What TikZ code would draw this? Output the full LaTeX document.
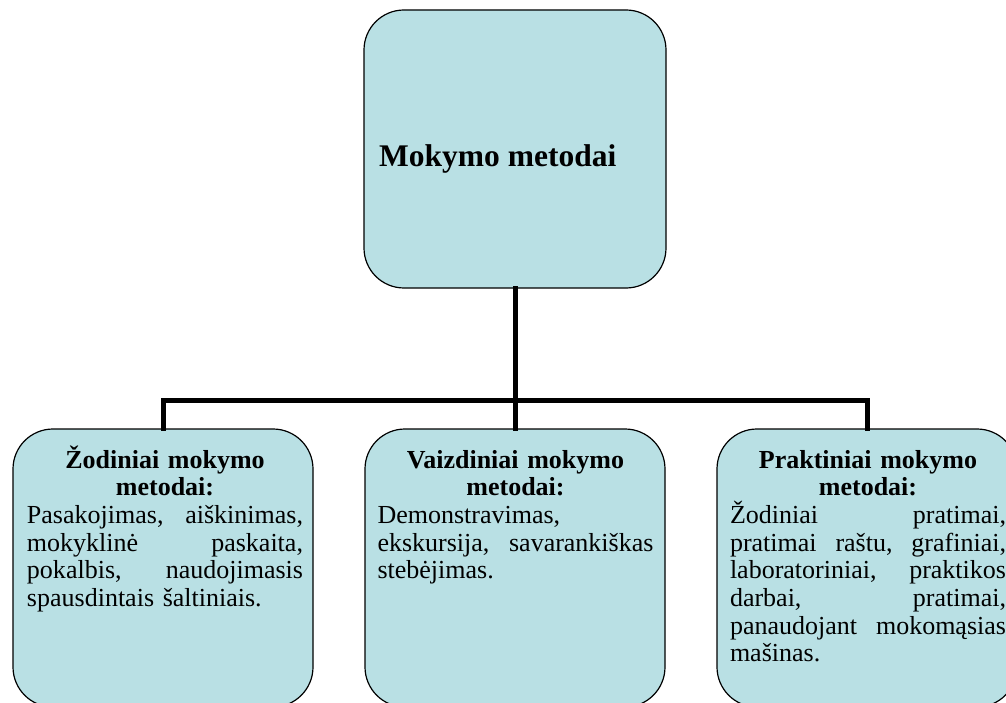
\documentclass[tikz,border=0pt]{standalone}
\usepackage{fontspec}
\setmainfont{Liberation Serif}
\definecolor{boxfill}{RGB}{185,224,228}
\tikzset{
  mbox/.style={draw=black, line width=1.2pt, fill=boxfill, rounded corners=40pt, inner sep=0pt},
  conn/.style={line width=5pt, line cap=rect, line join=miter},
  body/.style={inner sep=0pt, text width=276pt, anchor=base, font=\fontsize{26}{27.7}\selectfont},
}
\newcommand{\hdr}[2]{{\centering\bfseries #1\\ #2\par}}
\begin{document}
\begin{tikzpicture}[x=1pt,y=-1pt]
\clip (0,0) rectangle (1006,703);
\fill[white] (0,0) rectangle (1006,703);
\coordinate (bar) at (515,400);
% boxes
\node[mbox, minimum width=302pt, minimum height=278pt] (top) at (515,149) {};
\node[mbox, minimum width=300pt, minimum height=278pt] (b1) at (163,568) {};
\node[mbox, minimum width=300pt, minimum height=278pt] (b2) at (515,568) {};
\node[mbox, minimum width=300pt, minimum height=278pt] (b3) at (867,568) {};
% connectors
\draw[conn] (top.south) -- (b2.north);
\draw[conn] (b1.north) -- (b1.north |- bar) -- (b3.north |- bar) -- (b3.north);
% texts
\node[anchor=base west, inner sep=0pt, font=\fontsize{31.5}{36}\selectfont\bfseries] (tt) at (379,167) {Mokymo metodai};
\node[body] (t1) at (165,468) {%
\hdr{Žodiniai mokymo}{metodai:}%
Pasakojimas,\hfill aiškinimas,\\
mokyklinė\hfill paskaita,\\
pokalbis,\hfill naudojimasis\\
spausdintais šaltiniais.};
\node[body] (t2) at (515.5,468) {%
\hdr{Vaizdiniai mokymo}{metodai:}%
Demonstravimas,\\
ekskursija,\hfill savarankiškas\\
stebėjimas.};
\node[body] (t3) at (868,468) {%
\hdr{Praktiniai mokymo}{metodai:}%
Žodiniai\hfill pratimai,\\
pratimai\hfill raštu,\hfill grafiniai,\\
laboratoriniai,\hfill praktikos\\
darbai,\hfill pratimai,\\
panaudojant\hfill mokomąsias\\
mašinas.};
\end{tikzpicture}
\end{document}
